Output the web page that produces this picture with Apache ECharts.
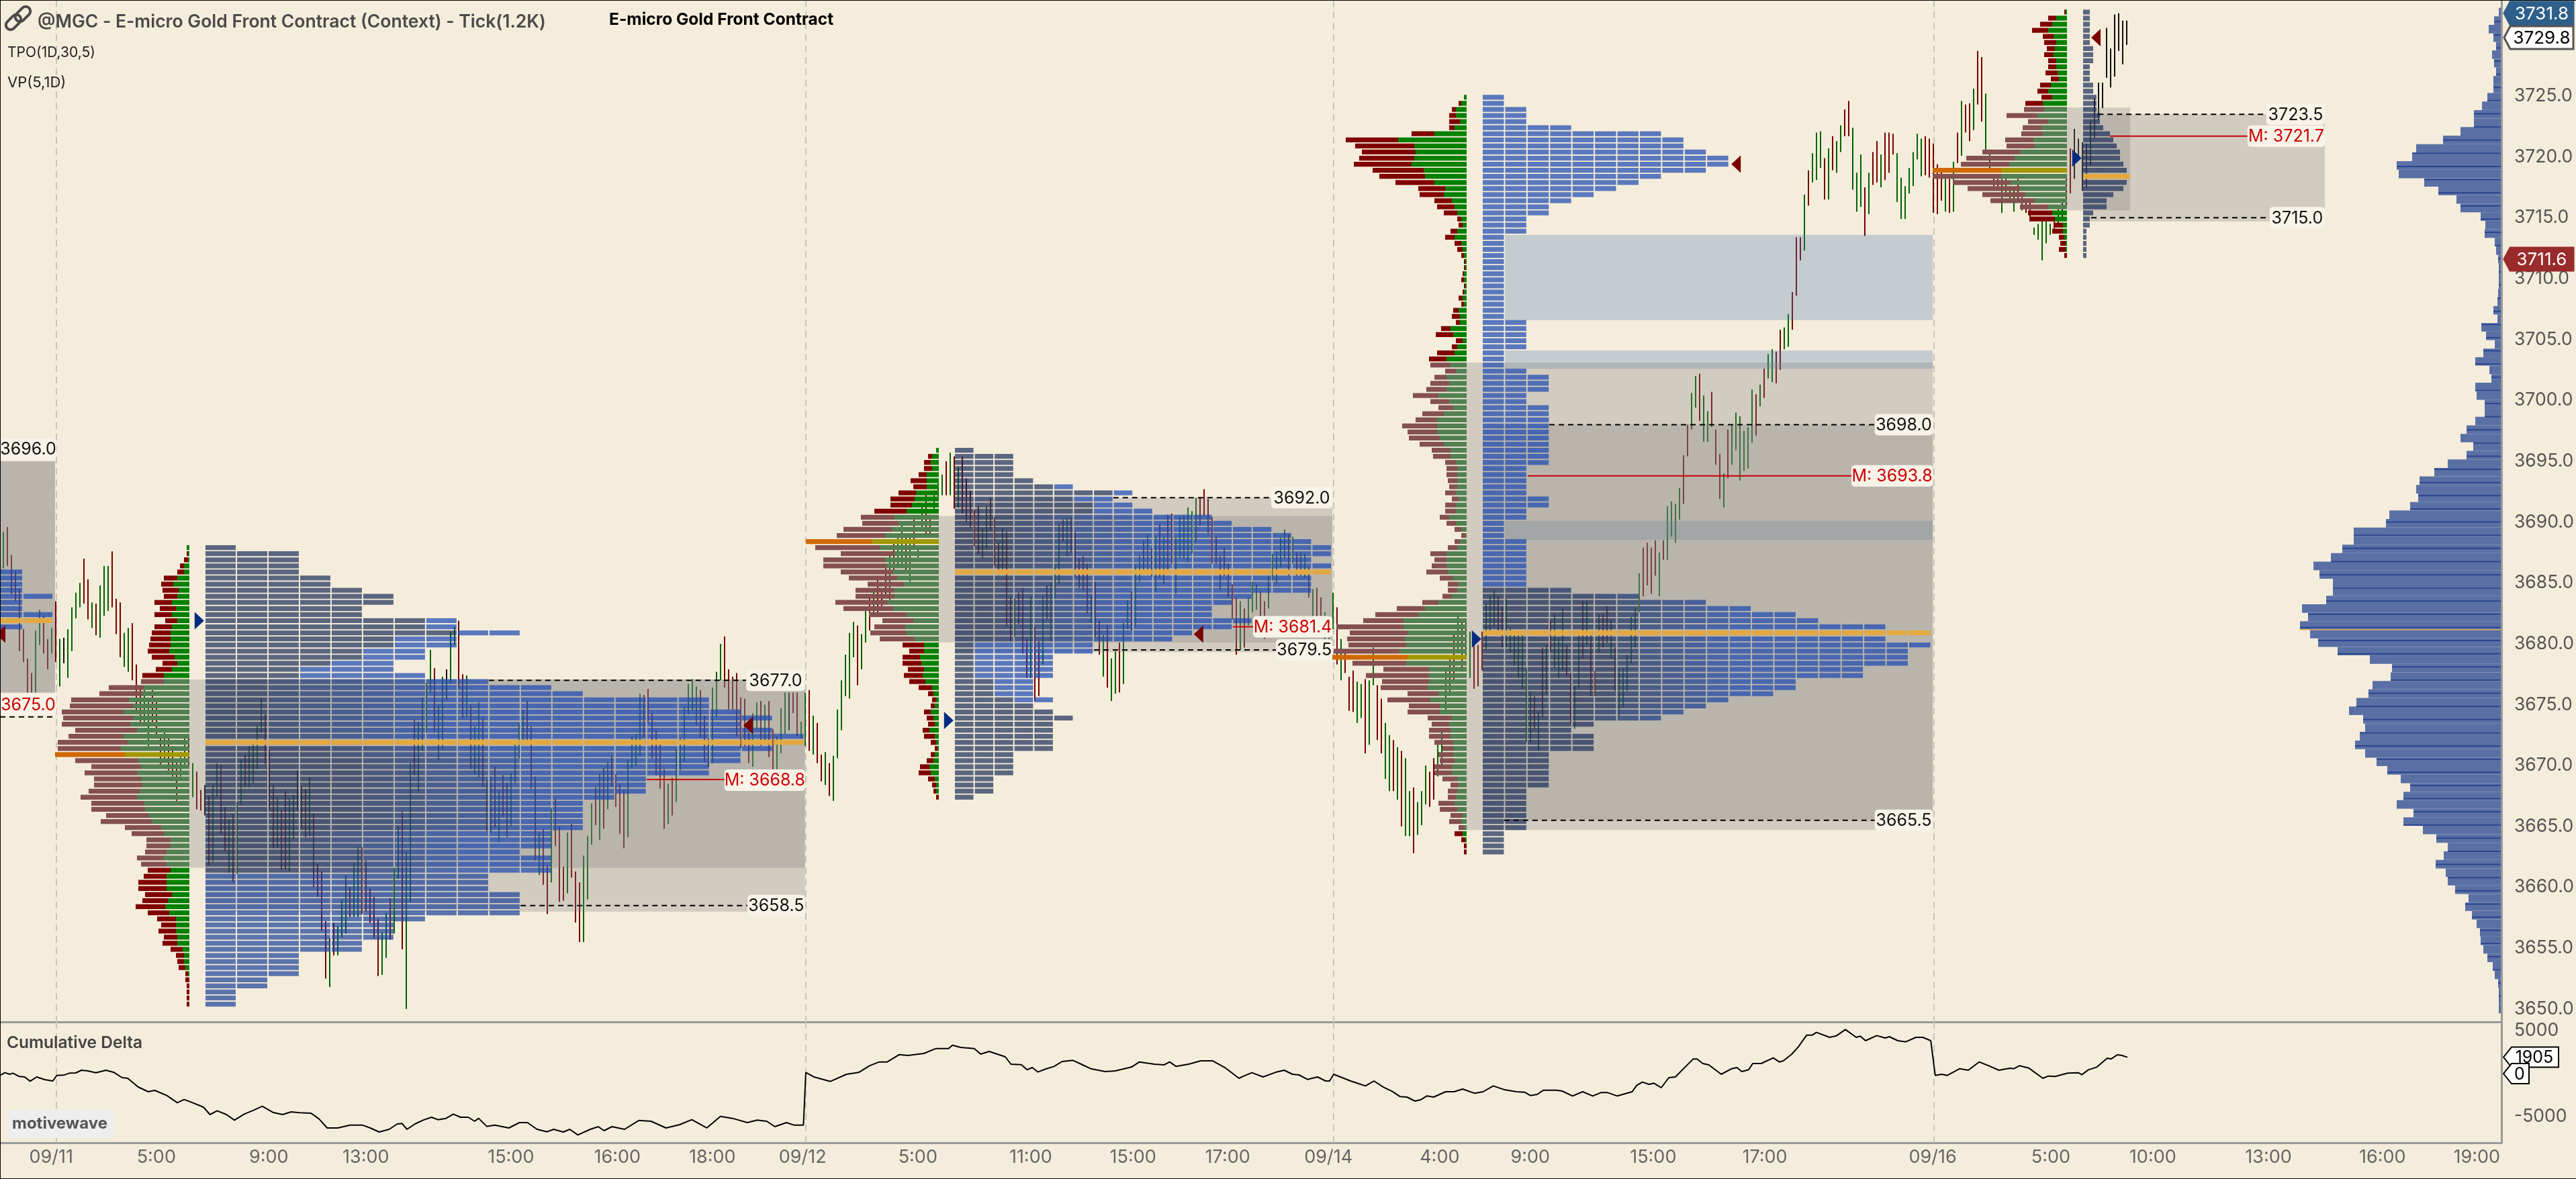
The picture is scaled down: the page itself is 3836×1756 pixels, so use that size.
<!DOCTYPE html>
<html><head><meta charset="utf-8">
<script src="https://cdn.jsdelivr.net/npm/echarts@6/dist/echarts.min.js"></script>
<style>html,body{margin:0;padding:0;background:#f5eddb}#c{width:3836px;height:1756px}</style></head>
<body><div id="c"></div>
<script>
// ---------- price bars (one per tick bar) ----------
const candleHigh=[3689.2,3689.6,3687.3,3686,3684.5,3681.2,3678.8,3677.6,3681.1,3682.8,
3682.3,3680.4,3681.3,3683.5,3680.4,3680.5,3681.2,3683,3684.2,3685,
3687,3685.3,3683.4,3683.3,3684.8,3686.4,3686.4,3687.6,3683.7,3683.4,
3680.9,3681.3,3681.7,3678.3,3676.4,3676.2,3675.2,3676.2,3675.2,3672.6,
3673.1,3672.6,3671.6,3670.4,3671.1,3672.6,3672.4,3670.2,3669.5,3668,
3668.4,3667.5,3668.4,3670.2,3670.1,3666.6,3665.6,3666,3667,3670.5,
3670.9,3671.6,3671.9,3673.3,3675.5,3674.2,3671.3,3668.4,3667.4,3666.3,
3667.9,3667.3,3667.6,3669.6,3668.3,3668.1,3669,3666.1,3661.9,3661.3,
3657.2,3655.8,3657.1,3656.8,3659,3661,3660,3662,3663.3,3663.3,
3662.2,3659.9,3659.2,3657.4,3656.3,3657.9,3659.1,3661.6,3665,3666.2,
3662.9,3670.2,3673.8,3673.6,3675.6,3676.8,3679.5,3678,3675,3677.3,
3677.9,3681,3681.4,3681.9,3677.5,3677.4,3675,3673.2,3675.2,3674,
3668.8,3669.1,3669.9,3667.9,3669.2,3668.6,3669.4,3672,3673.5,3674.6,
3675.3,3673.2,3669.1,3664.5,3664.8,3661.8,3666.5,3667.3,3665,3661.7,
3664.5,3665.2,3661.3,3660.4,3662.6,3664.2,3666.9,3668.2,3669.3,3669.8,
3670.3,3670.8,3669.3,3668.5,3668,3670.5,3672.4,3672.6,3675.9,3675.8,
3676.3,3674.3,3672.9,3672.1,3669.7,3668.5,3669,3671.4,3672.3,3674.8,
3676.7,3677.1,3676.5,3676.2,3674.1,3672.2,3676.4,3677.7,3680,3680.6,
3677.9,3677.3,3677.6,3675.6,3675.5,3672.7,3674.3,3675.2,3675.3,3675,
3675.3,3673,3672.4,3674.7,3676,3676,3676,3676,3673.6,3676,
3676.2,3674.1,3673.5,3670.9,3671.1,3670.2,3670.8,3674.6,3677,3679.1,
3680.9,3681.8,3681.5,3680.8,3682.7,3684,3684.5,3685.6,3684.2,3686.2,
3687.5,3688.6,3688.8,3689.7,3689.1,3689.1,3690.2,3688,3691.2,3692.3,
3690.6,3692.6,3693.2,3693.9,3695,3695.7,3695.4,3694.5,3695.4,3693.6,
3692.6,3691,3691.3,3689.5,3691.3,3692,3690.4,3688.3,3689.5,3689.2,
3683.8,3683.7,3684.2,3684.6,3680.4,3683.9,3681.4,3680.2,3683.9,3684.8,
3685,3686.5,3689.8,3690.2,3690.3,3690.4,3689.2,3687,3687.2,3686.6,
3684,3685.1,3681.9,3680.7,3681.5,3678.8,3679.4,3680.1,3681.7,3683.6,
3684.3,3686.5,3687.2,3688.5,3689,3687.8,3688.8,3689.8,3688.8,3690.6,
3690.7,3688.7,3690.5,3690.6,3691.2,3690.9,3692,3692,3692.7,3691.9,
3690.4,3688.8,3687.2,3687.9,3686.6,3684.9,3683.8,3683.5,3682.9,3683.8,
3685.1,3684.9,3684.3,3683.5,3685.6,3687.4,3687.6,3688.7,3689.4,3689,
3688.8,3687.5,3687.5,3687.4,3686.3,3684.5,3684.6,3683.8,3682.6,3682.3,
3684.2,3683,3680.4,3679.5,3677.3,3677.8,3676.9,3676.7,3677.1,3677,
3679.7,3676.6,3675.5,3673.5,3672.5,3672.1,3671.5,3671.2,3670.6,3667.9,
3668.2,3667,3667.9,3670,3669.5,3670.6,3671.7,3673,3678,3679,
3681,3682.5,3681.7,3682,3681,3680.1,3679.9,3681,3683.3,3683.9,
3684.4,3683.9,3683.1,3683.7,3681.2,3681,3680.7,3681,3678,3676.1,
3675.7,3674.4,3679.7,3679.9,3682,3682.4,3680.5,3682.9,3679.9,3677.6,
3676.5,3680.7,3683.5,3683.5,3681,3677.8,3682.4,3682.4,3683.1,3682,
3679.7,3678,3678,3679.1,3682.2,3682.9,3685.8,3687.9,3688.3,3687.9,
3688.5,3687.5,3688.5,3691.3,3691.7,3691.5,3692.8,3695.5,3698,3700.6,
3702,3702.2,3700.4,3699.1,3700.7,3697.6,3695.6,3694,3697.6,3698,
3699,3698.7,3697.5,3697.8,3700.9,3700.5,3701.3,3702.6,3703.8,3704.2,
3704,3705.8,3706,3707.1,3708.9,3713.4,3713.4,3716.9,3718.9,3720.3,
3722,3722.1,3719.9,3720.7,3721.7,3721.3,3722.6,3723.9,3724.6,3722.4,
3718.7,3720.2,3717.5,3718.7,3720.4,3721.3,3720.2,3722,3722,3721.9,
3720.3,3718.3,3717.6,3719.1,3720.4,3721.9,3721.5,3721.7,3721.5,3721.1,
3719.4,3718.9,3718.5,3718.2,3719.6,3722,3724.6,3724.3,3724.4,3725.6,
3728.7,3728.2,3725.2,3720.6,3718.5,3718.2,3718.2,3718.5,3717.6,3717.3,
3718.2,3716.7,3716.3,3716.3,3714.2,3714.5,3714.8,3714.7,3714.5,3714.7,
3715.8,3716.3,3718.2,3720.7,3722.3,3721.5,3721.2,3721.1,3722.9,3724.8,
3726.1,3726.1,3730.6,3728.9,3731.7,3731.8,3731.2,3731.2];
const candleLow=[3686.2,3686.4,3684.1,3683.5,3679.4,3678.5,3676,3676,3676,3679.9,
3679.2,3677.9,3679.2,3678.5,3676.5,3678.4,3677.2,3679.4,3682.1,3683,
3683.3,3682,3681.3,3680.7,3680.5,3682.3,3682.7,3683,3680.8,3678.9,
3678.1,3677.7,3677,3674.2,3673.6,3673.6,3671.6,3673.6,3672.6,3670.1,
3670.4,3669.6,3669.1,3667.1,3669.1,3670.1,3669.9,3667.4,3666.4,3666.3,
3665.9,3661.8,3662.1,3667.4,3664.4,3663,3661.2,3660.4,3661.1,3666.8,
3668.2,3668.2,3668.5,3669.7,3672.7,3670.1,3666.3,3663.2,3663.2,3661.5,
3661.5,3661.3,3664,3666.3,3664.8,3664.1,3664.2,3660,3659.2,3656.4,
3652.5,3651.8,3654.4,3654.4,3655.9,3656.2,3657.6,3657.6,3657.6,3657.8,
3658,3657.1,3655.8,3652.7,3652.8,3654.2,3655.7,3656.2,3660.7,3654.9,
3650,3658.8,3669.2,3667.9,3671.2,3672.7,3676,3672.7,3670.4,3671.3,
3675.4,3676.7,3679.9,3676.3,3673.9,3674,3669.7,3669.3,3669,3668.2,
3664.6,3664.5,3664.9,3663.7,3665.8,3664.1,3665,3668.6,3670.6,3671.9,
3672.1,3668.1,3662.2,3661,3660.2,3657.8,3660.4,3663.4,3658.8,3658.9,
3659.5,3660.8,3657.1,3655.5,3655.5,3659,3663.5,3665.1,3663.9,3664.8,
3666.4,3668.3,3666.6,3664.4,3663.2,3664.1,3669.8,3670,3670.8,3672.3,
3673.5,3670.6,3669.2,3668.1,3664.8,3665.2,3665.9,3667,3669.6,3670.3,
3674.2,3674.5,3673.3,3672.3,3670.3,3669.9,3670.2,3674,3677,3676.4,
3674.6,3674.6,3672.4,3671.4,3671.6,3670.2,3669.9,3673,3671.6,3672.1,
3670.7,3669.7,3669.7,3671,3672.6,3672.9,3674.3,3672.4,3672.2,3671.6,
3671.2,3670.9,3670.2,3668.7,3668.4,3667.5,3667.1,3670.6,3672.9,3675.7,
3675.5,3678.9,3676.6,3677.9,3680.1,3681.1,3682.3,3682.3,3682.7,3683.8,
3683.6,3686,3686.2,3686.6,3686,3685.1,3687.7,3687.1,3689.3,3689.1,
3689.1,3691,3692.1,3692.2,3692.2,3692.2,3691.1,3691.2,3690.7,3690,
3689.5,3688,3687.4,3687,3687.8,3689.3,3686.4,3685.7,3685.8,3681.4,
3680.2,3680.6,3681.6,3679.2,3677.2,3677.2,3675.3,3675.7,3678.3,3682,
3680.2,3683.7,3684.9,3688.4,3687.2,3687.5,3685.5,3684.6,3684.4,3682.5,
3681.7,3680.6,3679.1,3677.3,3676.4,3675.3,3675.9,3676,3676.7,3681.2,
3681.1,3681.4,3685.1,3685.9,3685.8,3685.5,3684.3,3685.4,3684.9,3686,
3686.6,3684.1,3687.1,3687,3686.7,3687.4,3688.4,3689.7,3690.5,3689.1,
3686.6,3686.6,3684.5,3685.6,3683.8,3682,3679.1,3679.5,3679.7,3681.5,
3682.6,3682.8,3681.8,3680.4,3682.9,3685.2,3685,3686.3,3687,3685.6,
3686.6,3685.6,3685.6,3685.4,3683.8,3681.8,3681.5,3681.4,3680.1,3679.8,
3681.2,3678.3,3677,3677.6,3674.5,3674.4,3673.5,3673.9,3671,3671.7,
3676.6,3672.1,3671,3668.9,3667.9,3667.9,3667.2,3665,3664.2,3664.2,
3662.8,3664.3,3665.1,3666.8,3666.6,3667.2,3669.1,3670,3674.2,3676,
3677,3679.5,3678,3679,3677.2,3676.3,3676.5,3677.8,3679.5,3681,
3681.4,3681,3679.7,3679.7,3679.3,3678.2,3677.2,3676.3,3671.9,3671.9,
3673,3671.2,3674,3675.9,3679.3,3678,3677.2,3677.8,3677.4,3673.4,
3673,3676.3,3678.8,3679.9,3675.7,3675.7,3679.3,3679.7,3680.1,3678.8,
3676.1,3674,3674.8,3676.1,3678.4,3679.7,3682.6,3683.9,3684.8,3684.1,
3685.6,3683.9,3686.9,3686.9,3688.8,3688.3,3690.2,3691.5,3695.4,3697.6,
3699.4,3698.3,3696.6,3696.6,3697.8,3694.7,3691.9,3691.2,3693.6,3694.7,
3695.9,3693.4,3694.2,3694.4,3696.5,3697.1,3699.5,3700.2,3701.8,3701.5,
3701.4,3702.5,3704.2,3704.4,3705.8,3708.6,3711.5,3712.3,3716,3717.9,
3718.1,3719.1,3716.5,3716.5,3718.9,3718.7,3720.4,3721.7,3721.7,3717.3,
3715.5,3715.9,3713.5,3715.3,3717.7,3717.9,3717.5,3718.1,3718.7,3720.2,
3716.3,3714.9,3714.9,3717,3717.6,3719.8,3718.4,3718.5,3718.3,3715.4,
3715.3,3716.4,3715.5,3715.4,3715.5,3719.5,3720.1,3722,3721.3,3722.2,
3724.3,3722.9,3720.6,3718.9,3717.6,3717.4,3715.4,3716.9,3716.3,3715.5,
3716.3,3715.6,3715.4,3714.7,3713.6,3713.2,3711.5,3712.9,3713.6,3714.1,
3714.5,3714.9,3715.8,3717,3718.2,3719.7,3717.2,3717.5,3719.3,3721.5,
3723,3724,3726.5,3725.7,3726.6,3728.7,3727.6,3729.2];
const candleSide=("grrrrrrrgg"+"rrgrgkgggg"+"rrgrgggrrr"+"ggrrrggrrr"+"grrrggrgrr"+"krggrrgrgg"+"rggggrrrgr"+"rggkrrgrrr"+"rgrgggrggr"+"rrrrggrggr"+
"ggrggggrgg"+"kggrrgrggr"+"rgrgrrgggg"+"rrrgrrgrrr"+"grrrgggrgr"+"grrrrggggr"+"rrrrrgrggg"+"gggrrkgggr"+"rrrrrrggrg"+"rrgggkrrgg"+
"rgrrgrgggg"+"ggrggrgrrr"+"grggrgrggr"+"rgggrgrgrr"+"rrrggrrrgr"+"rgrrrgrrgr"+"gggrgrrrrr"+"grrgrggrgg"+"rggrgrgrgr"+"rgggggg"+"rrr"+
"rrrrrrrgrg"+"ggrrggggg"+"r"+"grggrgrrgg"+"grgrrrggrg"+"grrggrgrgg"+"rgggrrgggr"+"rgrggrrrgg"+"gr"+"rgggggg"+"grg"+"rgrgggrrgg"+"rg"+"rr"+"grrgrggggg"+
"grrrrgrggg"+"grrggrggrr"+"rgrgggggg"+"r"+"grggrrggrr"+"rgrgggrgrg"+"grrggg"+"rgrr"+"grrrggggg"+"g"+"grrrrrgrgr"+"grrgrrggrr"+"ggggrgrrgg"+"gggrgkrr").split("");
const barFirstX=0.83;

// ---------- TPO-style left profiles (red / green counts per 0.5 row) ----------
const s1Red=[0,1,3,3,5,10,9,12,10,13,12,13,9,13,14,15,16,16,17,11,12,16,17,26,32,43,47,46,52,51,46,41,52,47,52,47,37,39,35,36,38,42,39,40,32,38,27,24,18,18,16,20,19,17,17,21,21,20,19,22,16,14,11,13,10,11,9,6,5,5,2,3,2,2,2,2];
const s1Green=[2,1,1,4,4,9,12,8,9,13,10,13,9,13,14,14,14,15,11,9,13,19,19,34,35,45,42,49,42,44,39,49,46,51,48,38,36,39,36,35,37,39,34,33,30,28,21,19,14,14,17,19,17,14,17,17,17,13,16,18,15,10,10,10,9,9,5,4,4,3,1,0,0,0,0,0];
const s2Red=[0,3,5,6,6,12,10,13,18,16,24,25,27,36,36,49,48,40,46,47,39,36,27,29,29,39,37,28,23,23,27,26,16,11,13,14,12,14,12,10,4,3,3,5,5,5,5,8,4,2,3,5,7,9,5,3,2,2];
const s2Green=[2,5,6,5,9,9,9,17,18,20,24,33,30,35,40,50,44,33,40,39,34,31,26,33,33,38,34,24,19,25,24,18,11,11,14,13,11,12,10,5,4,2,3,6,4,3,7,3,2,1,3,4,7,6,3,2,2,0];
const s3Red=[0,2,3,5,8,4,17,39,44,40,41,43,38,34,29,20,18,13,13,10,3,3,5,7,5,4,2,1,1,1,2,1,1,3,2,4,6,3,7,13,5,4,13,13,15,8,9,14,15,19,14,11,16,16,26,22,23,18,14,13,8,8,8,7,6,8,5,8,8,7,7,5,3,4,7,12,9,11,16,10,8,7,7,12,21,32,30,50,43,43,43,49,56,40,34,47,35,35,23,32,23,24,18,13,16,16,14,8,11,11,13,13,11,6,7,6,12,13,9,9,4,6,3,2,2];
const s3Green=[2,4,8,8,5,9,24,51,39,38,39,41,32,31,24,16,17,11,9,7,4,3,7,9,4,3,2,1,1,2,2,1,2,3,2,6,5,5,12,10,3,7,9,15,12,8,15,13,15,21,13,10,17,22,22,22,20,17,12,12,8,7,7,7,7,8,6,8,8,13,8,4,1,5,7,15,15,15,14,10,6,7,11,21,31,36,47,47,44,46,45,50,44,45,28,28,28,29,21,27,20,20,11,13,12,12,10,10,10,9,11,11,7,6,7,8,9,7,3,4,2,3,1,0,0];
const s4Red=[1,6,9,12,8,9,6,7,6,6,9,6,8,8,8,13,15,23,15,14,16,21,21,28,36,36,51,51,43,39,32,33,21,18,19,7,8,4,4,5,2];
const s4Green=[1,8,11,14,10,8,9,10,8,8,7,6,12,14,11,18,17,22,14,19,18,25,24,35,39,43,49,49,42,35,31,24,14,11,9,3,3,2,1,1,0];

// ---------- volume profile column counts, and how many columns are slate ----------
const s0Vol=[1,1,1,1,2,1,1,2,2,1];
const s0Slate=[0,0,0,0,0,0,0,0,0,0];
const s1Vol=[1,3,3,3,3,4,4,5,6,6,5,5,8,8,10,8,8,7,7,6,6,7,9,11,12,16,16,17,18,17,18,19,19,18,17,17,16,16,14,14,14,13,12,12,12,12,12,11,11,11,10,11,11,11,9,9,9,10,10,10,10,7,6,6,6,5,5,3,3,3,3,2,2,1,1,1];
const s1Slate=[1,3,3,3,3,4,4,5,6,6,5,5,7,7,8,6,6,5,5,4,3,3,2,2,2,2,2,2,2,2,2,2,2,4,4,5,5,5,5,5,5,5,5,5,5,5,5,3,3,3,3,3,3,3,0,0,0,0,0,0,0,0,0,0,0,0,0,0,0,0,0,0,0,0,0,0];
const s2Vol=[1,3,3,3,3,4,6,9,8,9,10,13,14,16,17,18,19,19,18,19,19,18,18,18,15,14,13,13,15,14,12,11,7,7,5,5,5,5,4,4,4,5,4,5,6,5,5,5,5,5,3,3,3,3,2,2,2,1];
const s2Slate=[1,3,3,3,3,4,5,8,6,7,7,3,3,3,3,3,3,3,3,3,3,3,3,2,2,2,2,2,2,2,2,2,1,1,1,1,1,1,2,2,2,3,4,5,6,5,5,5,5,5,3,3,3,3,2,2,2,1];
const s3Vol=[1,1,2,2,2,4,8,9,9,10,11,11,10,8,7,6,5,4,3,3,2,2,2,1,1,1,1,1,1,1,1,1,1,1,1,1,1,2,2,2,2,2,1,1,1,2,3,3,3,2,2,3,3,3,3,3,3,3,3,3,3,2,2,2,2,2,3,3,2,2,1,1,1,2,2,2,2,2,2,2,2,4,7,10,12,14,15,18,20,18,20,19,19,19,17,17,14,14,13,11,10,9,8,5,4,5,5,5,3,3,3,3,3,3,2,2,2,2,2,2,2,1,1,1,1];
const s3Slate=[0,0,0,0,0,0,0,0,0,0,0,0,0,0,0,0,0,0,0,0,0,0,0,0,0,0,0,0,0,0,0,0,0,0,0,0,0,0,0,0,0,0,0,0,0,0,0,0,0,0,0,0,0,0,0,0,0,0,0,0,0,0,0,0,0,0,0,0,0,0,0,0,0,0,0,0,0,0,0,0,0,3,5,6,6,6,6,6,6,6,6,6,6,6,6,6,6,6,6,6,6,5,5,5,4,5,5,5,3,3,3,3,3,3,2,2,2,2,2,2,2,1,1,1,1];
const s4Vol=[2,2,2,2,2,2,3,3,3,2,2,2,3,3,4,4,4,5,5,6,8,9,10,11,11,12,13,14,13,12,9,7,7,3,2,2,1,1,1,1,1];
const s4Slate=s4Vol;

// ---------- composite profile on the right (0.7 price steps from 3650) ----------
const compVolume=[3,3,3,4,9,12,20,26,30,31,36,43,53,48,68,79,82,97,85,79,96,116,145,130,155,145,135,149,169,185,202,217,210,202,205,226,215,197,191,164,162,195,243,272,284,299,287,296,260,250,250,270,279,253,236,219,219,171,166,135,123,126,121,99,79,51,41,60,51,38,24,24,36,38,14,17,38,26,9,22,29,5,11,5,4,3,3,3,4,7,9,24,23,30,60,66,93,114,152,155,132,126,86,60,40,40,28,20,11,11,7,10,13,7,11,18,10,3];
const compStart=3650, compStep=0.7, compPeak=3681.15;

// ---------- cumulative delta ----------
const deltaBar=[0,1.2,2.4,3.2,4.8,6.1,7.5,9.1,11.1,13.1,14.1,15.8,17.2,18.8,20.2,21.8,23.8,26.3,28.3,30.3,31.7,34.3,36.8,38.4,41.4,44,45.7,47.5,50.5,52.1,53.9,56.2,58.2,60.6,63,65.1,67.7,70.1,72.3,74.3,77.2,79.2,81.2,83.8,86.9,89.9,91.9,94.1,96.6,98.6,99.8,101,103,105,107.1,108.7,110.7,112.5,114.3,116.2,117.8,118.8,120.8,122.8,126.3,128.9,130.9,133.3,135.8,137.4,139.8,141.4,143.4,146.5,148.5,149.9,151.9,155,158.6,161.6,165.3,168.7,171.7,175.4,178.8,181.8,185.5,187.9,190.3,192.3,195.2,197,199.4,
200,202,206.1,210.1,213.1,215.8,218.2,220.2,223.2,225.3,229.3,232.3,235.4,236.4,238.4,241.8,243.4,245.5,249.5,250.9,253.5,254.9,256.2,257.6,259.6,261.6,263.6,266.3,268.7,270.7,274.3,276.8,280.8,282.8,286.5,288.9,290.3,291.9,295,298,301,304,307.5,308.7,310.7,313.5,316.8,
318.7,320.8,322.4,324.5,327,329,330,331,333.1,335.2,337.2,338.9,341,343.4,345.5,347.5,349.2,351.2,352.7,354.1,355.8,358.8,360.9,363,366,368.1,370.6,373.2,376.3,378.4,379.8,381.5,383.1,386.2,387.7,390.3,392.8,395.3,397.3,399,401.4,405.1,406.2,407.6,409.3,410.5,412.3,414.2,415.8,420.2,421.2,422.6,424.1,427.2,429.8,431.1,432.3,434,435,437.1,440.1,441.6,442.6,444.7,446.3,448.4,449.8,450.8,454.1,455.8,458,460.7,461.7,463,465.8,467.9,468.9,471,473,475.5,477.2,479.2,
480.3,481.9,483.3,486.4,488.5,491.2,493.6,496.1,498.8,499.8,501.2,503.5,507,508.4,510.1,513.2,515.8,516.7,518.3,520.4,523,523.9,525.5,526.5,528];
const deltaValue=[-208,104,-78,52,-338,-390,-885,-390,-703,-859,-208,-182,52,78,391,313,104,391,130,-468,-547,-1562,-2109,-1953,-2552,-3385,-3021,-3333,-3906,-4765,-4322,-4765,-5416,-4713,-4244,-3802,-4505,-4765,-4453,-4557,-4609,-5286,-6328,-6328,-5989,-5989,-6328,-6796,-6484,-5859,-5807,-6484,-5859,-5416,-5078,-5364,-5208,-4713,-5078,-5078,-5546,-5208,-6145,-5989,-6328,-5703,-5703,-6484,-6770,-6484,-6796,-6484,-7135,-6484,-6171,-6640,-6171,-6484,-5442,-5546,-6328,-5937,-5364,-6328,-4973,-5208,-5703,-5416,-5546,-6171,-5703,-5989,-5989,
130,-390,-911,-78,130,911,1354,1354,2213,2109,2344,2917,2917,3307,3047,2917,2265,2578,1953,1094,1042,443,703,182,547,833,1406,1536,1016,573,234,313,755,1354,1094,1016,1354,833,1094,1484,1484,703,-547,-286,104,-390,182,
391,-78,-156,-677,-390,-859,-859,-78,-468,-859,-1172,-1432,-859,-1588,-2057,-2682,-2734,-3203,-3021,-2604,-2734,-2109,-2109,-1797,-2291,-2109,-1432,-1849,-2109,-2161,-2552,-2422,-1927,-1927,-2031,-2604,-2109,-2604,-2213,-2213,-2604,-2109,-1380,-990,-1250,-1120,-1640,-468,-390,1693,1693,1172,1016,-78,573,703,234,443,1172,1172,1823,1354,1484,2265,3099,4479,4479,4791,4219,4401,5130,4219,4349,3828,4427,4141,4297,3828,3698,4219,4219,3828,
-208,-78,-208,573,391,1354,911,391,625,573,911,651,-547,-286,-338,52,104,-130,443,755,1797,1693,2187,2135,1905];

// ---------- axis ticks ----------
const tickBars=[12.7,38.8,66.7,90.8,126.8,153.2,176.8,199.2,227.8,255.8,281.2,304.7,329.7,357.3,379.8,410.3,438,479.7,509,534.3,563,591.3,614.7];
const tickLabels=["09/11","5:00","9:00","13:00","15:00","16:00","18:00","09/12","5:00","11:00","15:00","17:00","09/14","4:00","9:00","15:00","17:00","09/16","5:00","10:00","13:00","16:00","19:00"];
const priceTicks=[3650,3655,3660,3665,3670,3675,3680,3685,3690,3695,3700,3705,3710,3715,3720,3725];
const deltaTicks=[-5000,5000];
const sessionBars=[14,200,331,480];

// ---------- value-area boxes: x0,price top,x1,price bottom ----------
const grayBoxes=[[0,3695,13.67,3676],[0,3695,13.67,3676],[47,3677.07,199.8,3661.6],[51,3677.07,199.8,3658],[233,3690.5,330.7,3680.1],[237,3692,330.7,3679.3],[364,3703.1,479.7,3664.7],[368,3698,479.7,3665.5],[513,3724.06,528.7,3715.6],[517,3723.5,577,3714.7]];
const steelBoxes=[[373.5,3713.6,479.7,3706.6],[373.5,3704.1,479.7,3702.6],[373.5,3690.1,479.7,3688.55]];
const dashLevels=[[0,3674,13,3674],[121.3,3677,185.2,3677],[129.2,3658.5,185.5,3658.5],[276.3,3692,315.5,3692],[271.5,3679.5,316.7,3679.5],[384.5,3698,465.3,3698],[373.3,3665.5,465.3,3665.5],[520.7,3723.5,562.5,3723.5],[519,3715,563.3,3715]];
const medianLines=[[160.5,3668.85,179.8],[306,3681.4,311],[379.2,3693.8,459.5],[523.7,3721.7,557.8]];
const levelLabels=[[0,3696,14,"3696.0",0],[0,3675,14,"3675.0",1],[185.2,3677,199.8,"3677.0",0],[185.5,3658.5,199.8,"3658.5",0],[179.8,3668.8,199.8,"M: 3668.8",1],[315.5,3692,330.7,"3692.0",0],[316.7,3679.5,330.7,"3679.5",0],[311,3681.4,330.7,"M: 3681.4",1],[465.3,3698,479.7,"3698.0",0],[465.3,3665.5,479.7,"3665.5",0],[459.5,3693.8,479.7,"M: 3693.8",1],[562.5,3723.5,577,"3723.5",0],[563.3,3715,577,"3715.0",0],[557.8,3721.7,577,"M: 3721.7",1]];
// arrows: base/tip bar, price, direction (1 right-pointing blue, -1 left-pointing red)
const arrows=[[-1,3680.8,-1],[48.3,3681.9,1],[184.5,3673.3,-1],[234.3,3673.7,1],[296.3,3680.8,-1],[365.3,3680.4,1],[429.7,3719.4,-1],[514.3,3719.9,1],[519,3729.8,-1]];
const priceTags=[[3731.8,"3731.8","#2e5f8a","#ffffff","#2e5f8a"],[3729.8,"3729.8","#ffffff","#000000","#555555"],[3711.6,"3711.6","#9a2b2b","#ffffff","#9a2b2b"]];
const deltaTags=[[1905,"1905",82],[0,"0",38]];

// ---------- sessions ----------
const sessions=[
 {top:3685.9,vol:s0Vol,slate:s0Slate,volLeft:-1.67,col:7.5,gap:0.33,volPoc:8},
 {top:3687.9,red:s1Red,green:s1Green,vaFrom:22,vaTo:52,poc:34,tpoRight:47,vol:s1Vol,slate:s1Slate,volLeft:51,col:7.83,gap:0.33,volPoc:32,fade:[22,53,5],tint:[54,75,0.25]},
 {top:3695.9,red:s2Red,green:s2Green,vaFrom:11,vaTo:31,poc:15,tpoRight:233,vol:s2Vol,slate:s2Slate,volLeft:237,col:4.93,gap:0.33,volPoc:20,fade:[11,31,6]},
 {top:3724.9,red:s3Red,green:s3Green,vaFrom:44,vaTo:120,poc:92,tpoRight:364,vol:s3Vol,slate:s3Slate,volLeft:368,col:5.57,gap:0.33,volPoc:88,fade:[81,120,5]},
 {top:3731.9,red:s4Red,green:s4Green,vaFrom:16,vaTo:32,poc:26,tpoRight:513,vol:s4Vol,slate:s4Slate,volLeft:517,col:0.833,gap:0,volPoc:27}
];

const XMAX=3725/6, PMIN=3648.94, PMAX=3732.89, DMIN=-8047, DMAX=6016;
const BG='#f5eddb', FONT='Inter';
const COL={g:'#006400',r:'#780000',k:'#111111'};
const POCFILL='#e4a840';
const volFill=t=>t<0?POCFILL:`rgba(${Math.round(24+2*t)},${Math.round(70-26*t)},${Math.round(176-87*t)},0.7)`;
const TPOCOL=['#800000','#008000','#845050','#528052','#d06800','#a09800'];
const ROWH=0.2;

// flatten
const candleItems=candleHigh.map((h,i)=>[i+barFirstX,h,candleLow[i],candleSide[i]==='g'?0:candleSide[i]==='r'?1:2]);
const volItems=[], tpoItems=[];
sessions.forEach(s=>{
  s.vol.forEach((n,k)=>{
    const p=s.top-0.5*k;
    for(let c=0;c<n;c++){
      let t=c<s.slate[k]?1:0;
      if(t===0&&s.fade&&k>=s.fade[0]&&k<=s.fade[1]) t=Math.max(0,1-(c-s.slate[k]+1)/(s.fade[2]+1));
      if(t===0&&s.tint&&k>=s.tint[0]&&k<=s.tint[1]) t=s.tint[2];
      if(k===s.volPoc) t=-1;
      volItems.push([s.volLeft+c*s.col,p,s.volLeft+(c+1)*s.col-s.gap,t]);
    }
  });
  if(!s.red) return;
  s.red.forEach((r,k)=>{
    const p=s.top-0.5*k, g=s.green[k];
    const va=k>=s.vaFrom&&k<=s.vaTo, po=k===s.poc;
    const rc=po?4:(va?2:0), gc=po?5:(va?3:1);
    if(g) tpoItems.push([s.tpoRight-g/3,p,s.tpoRight,gc]);
    if(r) tpoItems.push([s.tpoRight-(g+r)/3,p,s.tpoRight-g/3,rc]);
  });
});
const compItems=compVolume.map((w,k)=>[XMAX-1/6-w/6,compStart+compStep*k,XMAX-1/6]);
const compLines=[];
for(let p=3651.05;p<3731.5;p+=1.082){
  const k=Math.min(compVolume.length-1,Math.round((p-compStart)/compStep));
  compLines.push([XMAX-1/6-compVolume[k]/6,p,XMAX-1/6]);
}

function rectOf(api,x0,p0,x1,p1,fill){
  const a=api.coord([x0,p0]),b=api.coord([x1,p1]);
  return {type:'rect',shape:{x:a[0],y:a[1],width:b[0]-a[0],height:b[1]-a[1]},style:{fill}};
}
function layer(xi,items,z,draw,clip){
  return {type:'custom',coordinateSystem:'cartesian2d',xAxisIndex:xi,yAxisIndex:xi,z,silent:true,animation:false,progressive:0,
    clip:clip!==false,data:items,renderItem:(p,api)=>draw(items[p.dataIndex],api)};
}
const txt=(text,x,y,fill,size,weight,align)=>({type:'text',style:{text,x,y,fill,fontSize:size,fontFamily:FONT,fontWeight:weight||400,align:align||'center',verticalAlign:'middle'}});

const series=[
 layer(0,sessionBars.map(b=>[b,PMIN]),1,(d,api)=>{const a=api.coord([d[0],PMAX]),b=api.coord([d[0],PMIN]);
   return {type:'line',shape:{x1:a[0],y1:a[1],x2:b[0],y2:b[1]},style:{stroke:'#c8c4bb',lineWidth:2,lineDash:[10,7]}};}),
 layer(1,sessionBars.map(b=>[b,0]),1,(d,api)=>{const a=api.coord([d[0],DMAX]),b=api.coord([d[0],DMIN]);
   return {type:'line',shape:{x1:a[0],y1:a[1],x2:b[0],y2:b[1]},style:{stroke:'#c8c4bb',lineWidth:2,lineDash:[10,7]}};}),
 layer(0,candleItems,2,(d,api)=>{const a=api.coord([d[0],d[1]]),b=api.coord([d[0],d[2]]);
   return {type:'rect',shape:{x:a[0]-1,y:a[1],width:2,height:b[1]-a[1]},style:{fill:[COL.g,COL.r,COL.k][d[3]]}};}),
 layer(0,steelBoxes,3,(d,api)=>rectOf(api,d[0],d[1],d[2],d[3],'rgba(82,130,179,0.3)')),
 layer(0,grayBoxes,3,(d,api)=>rectOf(api,d[0],d[1],d[2],d[3],'rgba(128,128,128,0.3)')),
 layer(0,volItems,4,(d,api)=>rectOf(api,d[0],d[1]+ROWH,d[2],d[1]-ROWH,volFill(d[3]))),
 layer(0,tpoItems,5,(d,api)=>rectOf(api,d[0],d[1]+ROWH,d[2],d[1]-ROWH,TPOCOL[d[3]])),
 layer(0,compItems,4,(d,api)=>rectOf(api,d[0],d[1]+compStep/2,d[2],d[1]-compStep/2,'#5a70a5')),
 layer(0,compLines,4,(d,api)=>{const a=api.coord([d[0],d[1]]),b=api.coord([d[2],d[1]]);
   return {type:'rect',shape:{x:a[0],y:a[1]-1,width:b[0]-a[0],height:2},style:{fill:'#2a4590'}};}),
 layer(0,[[XMAX-1/6-300/6,compPeak,XMAX-1/6]],5,(d,api)=>{const a=api.coord([d[0],d[1]]),b=api.coord([d[2],d[1]]);
   return {type:'rect',shape:{x:a[0],y:a[1]-1,width:b[0]-a[0],height:1.5},style:{fill:'#e8b060'}};}),
 layer(0,dashLevels,6,(d,api)=>{const a=api.coord([d[0],d[1]]),b=api.coord([d[2],d[1]]);
   return {type:'line',shape:{x1:a[0],y1:a[1],x2:b[0],y2:b[1]},style:{stroke:'#000',lineWidth:2,lineDash:[8,6]}};}),
 layer(0,medianLines,6,(d,api)=>{const a=api.coord([d[0],d[1]]),b=api.coord([d[2],d[1]]);
   return {type:'line',shape:{x1:a[0],y1:a[1],x2:b[0],y2:b[1]},style:{stroke:'#c80000',lineWidth:2}};}),
 layer(0,levelLabels,7,(d,api)=>{const a=api.coord([d[0],d[1]]),b=api.coord([d[2],d[1]]);
   return {type:'group',children:[
     {type:'rect',shape:{x:a[0],y:a[1]-16,width:b[0]-a[0],height:32,r:5},style:{fill:'#f8f3e8'}},
     txt(d[3],(a[0]+b[0])/2,a[1]+1,d[4]?'#cc0000':'#111111',25)]};}),
 layer(0,arrows,8,(d,api)=>{const a=api.coord([d[0],d[1]]);
   const pts=d[2]>0?[[a[0],a[1]-13],[a[0]+14,a[1]],[a[0],a[1]+13]]:[[a[0],a[1]],[a[0]+14,a[1]-13],[a[0]+14,a[1]+13]];
   return {type:'polygon',shape:{points:pts},style:{fill:d[2]>0?'#002b80':'#7a0000'}};}),
 layer(0,priceTags.map(t=>[XMAX,t[0],t[1],t[2],t[3],t[4]]),9,(d,api)=>{const a=api.coord([d[0],d[1]]);
   const x=a[0]+4,y=a[1],h=17;
   return {type:'group',children:[
     {type:'polygon',shape:{points:[[x,y],[x+9,y-h],[x+103,y-h],[x+103,y+h],[x+9,y+h]]},style:{fill:d[3],stroke:d[5],lineWidth:3}},
     txt(d[2],x+56,y+1,d[4],26)]};},false),
 {type:'line',xAxisIndex:1,yAxisIndex:1,z:4,silent:true,animation:false,showSymbol:false,symbol:'none',
  lineStyle:{color:'#000',width:2},data:deltaBar.map((b,i)=>[b,deltaValue[i]])},
 layer(1,deltaTags.map(t=>[XMAX,t[0],t[1],t[2]]),9,(d,api)=>{const a=api.coord([d[0],d[1]]);
   const x=a[0]+3,y=a[1],h=15,w=d[3];
   return {type:'group',children:[
     {type:'polygon',shape:{points:[[x,y],[x+12,y-h],[x+w,y-h],[x+w,y+h],[x+12,y+h]]},style:{fill:'#fff',stroke:'#000',lineWidth:2}},
     txt(d[2],x+w/2+5,y+1,'#000',25)]};},false)
];

const lineAxis={lineStyle:{color:'#999999',width:3}};
const option={
 backgroundColor:BG,animation:false,
 grid:[{left:0,top:0,width:3725,height:1522,containLabel:false},{left:0,top:1522,width:3725,height:180,containLabel:false}],
 xAxis:[
  {type:'value',gridIndex:0,min:0,max:XMAX,position:'bottom',axisLine:{show:true,onZero:false,...lineAxis},axisTick:{show:false},axisLabel:{show:false},splitLine:{show:false}},
  {type:'value',gridIndex:1,min:0,max:XMAX,position:'bottom',axisLine:{show:true,onZero:false,...lineAxis},axisTick:{show:false},splitLine:{show:false},
   axisLabel:{show:true,customValues:tickBars,margin:8,color:'#666666',fontFamily:FONT,fontSize:27,hideOverlap:false,
     formatter:v=>{const i=tickBars.findIndex(b=>Math.abs(b-v)<0.01);return i<0?'':tickLabels[i];}}}
 ],
 yAxis:[
  {type:'value',gridIndex:0,min:PMIN,max:PMAX,position:'right',axisLine:{show:true,onZero:false,...lineAxis},axisTick:{show:false},splitLine:{show:false},
   axisLabel:{show:true,customValues:priceTicks,margin:19,color:'#555555',fontFamily:FONT,fontSize:26.5,hideOverlap:false,formatter:v=>v.toFixed(1)}},
  {type:'value',gridIndex:1,min:DMIN,max:DMAX,position:'right',axisLine:{show:true,onZero:false,...lineAxis},axisTick:{show:false},splitLine:{show:false},
   axisLabel:{show:true,customValues:deltaTicks,margin:19,color:'#555555',fontFamily:FONT,fontSize:26.5,hideOverlap:false,formatter:v=>String(v)}}
 ],
 series,
 graphic:{elements:[
  {type:'rect',z:50,shape:{x:0,y:0,width:3836,height:1},style:{fill:'#000'}},
  {type:'rect',z:50,shape:{x:0,y:0,width:1,height:1756},style:{fill:'#000'}},
  {type:'rect',z:50,shape:{x:0,y:1755,width:3836,height:1},style:{fill:'#000'}},
  {type:'rect',z:50,x:20,y:33,rotation:-Math.PI/4,originX:0,originY:0,shape:{x:-7,y:-13,width:14,height:26,r:7},style:{fill:'none',stroke:'#4a4a4a',lineWidth:4}},
  {type:'rect',z:50,x:34,y:21,rotation:-Math.PI/4,originX:0,originY:0,shape:{x:-7,y:-13,width:14,height:26,r:7},style:{fill:'none',stroke:'#4a4a4a',lineWidth:4}},
  {type:'text',z:50,x:56,y:33,style:{text:'@MGC - E-micro Gold Front Contract (Context) - Tick(1.2K)',fill:'#4a4a4a',fontFamily:FONT,fontSize:26.5,fontWeight:600,verticalAlign:'middle'}},
  {type:'text',z:50,x:907,y:30,style:{text:'E-micro Gold Front Contract',fill:'#000',fontFamily:FONT,fontSize:24.5,fontWeight:700,verticalAlign:'middle'}},
  {type:'text',z:50,x:11,y:79,style:{text:'TPO(1D,30,5)',fill:'#222',fontFamily:FONT,fontSize:21,verticalAlign:'middle'}},
  {type:'text',z:50,x:11,y:123,style:{text:'VP(5,1D)',fill:'#222',fontFamily:FONT,fontSize:22,verticalAlign:'middle'}},
  {type:'text',z:50,x:10,y:1554,style:{text:'Cumulative Delta',fill:'#444',fontFamily:FONT,fontSize:24.5,fontWeight:600,verticalAlign:'middle'}},
  {type:'rect',z:49,shape:{x:12,y:1653,width:158,height:42,r:3},style:{fill:'#eeeeee'}},
  {type:'text',z:50,x:18,y:1674,style:{text:'motivewave',fill:'#555',fontFamily:FONT,fontSize:24,fontWeight:700,verticalAlign:'middle'}}
 ]}
};
const chart=echarts.init(document.getElementById('c'),null,{renderer:'canvas',width:3836,height:1756});
chart.setOption(option);
</script></body></html>
